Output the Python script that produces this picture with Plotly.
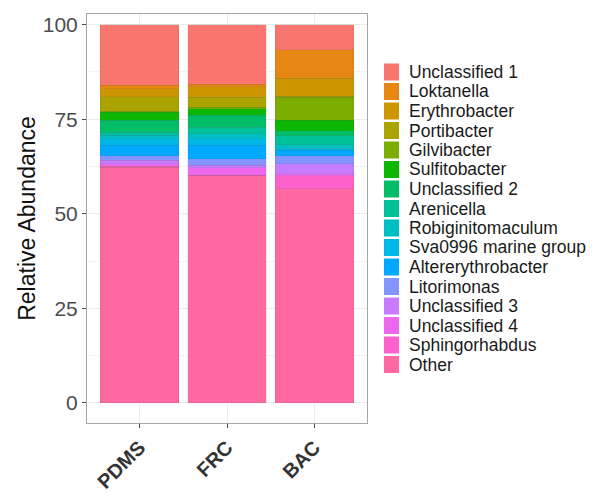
import plotly.graph_objects as go

# Samples (x categories)
samples = ["PDMS", "FRC", "BAC"]

# Taxa, listed from the top of each stacked bar to the bottom
taxa = [
    "Unclassified 1", "Loktanella", "Erythrobacter", "Portibacter",
    "Gilvibacter", "Sulfitobacter", "Unclassified 2", "Arenicella",
    "Robiginitomaculum", "Sva0996 marine group", "Altererythrobacter",
    "Litorimonas", "Unclassified 3", "Unclassified 4", "Sphingorhabdus", "Other",
]

# Relative abundance (%) of each taxon in PDMS, FRC, BAC
unclassified_1 = [15.9, 15.6, 6.7]
loktanella = [0.9, 0.7, 7.5]
erythrobacter = [2.2, 2.8, 4.7]
portibacter = [3.8, 2.7, 0.3]
gilvibacter = [0.3, 0.3, 6.1]
sulfitobacter = [2.1, 1.8, 2.7]
unclassified_2 = [3.1, 3.1, 1.4]
arenicella = [0.9, 1.7, 2.4]
robiginitomaculum = [0.9, 1.4, 1.0]
sva0996 = [1.7, 1.7, 0.4]
altererythrobacter = [2.7, 3.5, 1.4]
litorimonas = [1.3, 1.8, 2.2]
unclassified_3 = [0.9, 0.6, 2.6]
unclassified_4 = [0.7, 2.0, 0.5]
sphingorhabdus = [0.2, 0.2, 3.5]
other = [62.3, 60.0, 56.6]

values = [
    unclassified_1, loktanella, erythrobacter, portibacter, gilvibacter,
    sulfitobacter, unclassified_2, arenicella, robiginitomaculum, sva0996,
    altererythrobacter, litorimonas, unclassified_3, unclassified_4,
    sphingorhabdus, other,
]

# ggplot2 default hue palette for 16 levels
colors = [
    "#F8766D", "#E68613", "#CD9600", "#ABA300", "#7CAE00", "#0CB702",
    "#00BE67", "#00C19A", "#00BFC4", "#00B8E7", "#00A9FF", "#8494FF",
    "#C77CFF", "#ED68ED", "#FF61CC", "#FF68A1",
]

W, H = 611, 496
ML, MR, MT, MB = 87, 244, 14, 73
PW, PH = W - ML - MR, H - MT - MB
FONT = "Liberation Sans, Arial, sans-serif"


def px_x(px):
    return (px - ML) / PW


def px_y(py):
    return (H - MB - py) / PH


fig = go.Figure()

# Stack from the bottom ("Other") upward
for name, vals, col in reversed(list(zip(taxa, values, colors))):
    fig.add_trace(go.Bar(
        x=samples, y=vals, name=name,
        marker=dict(color=col, line=dict(color="rgba(90,90,90,0.25)", width=0.5)),
        showlegend=False,
    ))

# Legend drawn as swatches + labels to the right of the panel
shapes = []
annotations = []
y0_px, step_px = 72, 19.5
for i, (name, col) in enumerate(zip(taxa, colors)):
    cy = y0_px + i * step_px
    shapes.append(dict(
        type="rect", xref="paper", yref="paper",
        x0=px_x(384), x1=px_x(399), y0=px_y(cy + 8.5), y1=px_y(cy - 8.5),
        fillcolor=col, line=dict(width=0),
    ))
    annotations.append(dict(
        xref="paper", yref="paper", x=px_x(407), y=px_y(cy),
        text=name, showarrow=False, xanchor="left", yanchor="middle",
        font=dict(family=FONT, size=17.5, color="#1a1a1a"),
    ))

fig.update_layout(
    width=W, height=H,
    margin=dict(l=ML, r=MR, t=MT, b=MB),
    barmode="stack", bargap=0.1,
    paper_bgcolor="white", plot_bgcolor="white",
    font=dict(family=FONT),
    shapes=shapes, annotations=annotations,
    xaxis=dict(
        range=[-0.6, 2.6], automargin=False,
        showgrid=True, gridcolor="#ebebeb", gridwidth=1,
        showline=True, linecolor="#a6a6a6", linewidth=1, mirror=True,
        ticks="outside", ticklen=4, tickcolor="#4d4d4d",
        tickangle=-45,
        tickfont=dict(size=20, color="#333333", family=FONT, weight="bold"),
    ),
    yaxis=dict(
        range=[-5.3, 102.8], tickvals=[0, 25, 50, 75, 100], automargin=False,
        showgrid=True, gridcolor="#ebebeb", gridwidth=1,
        minor=dict(dtick=12.5, tick0=0, showgrid=True, gridcolor="#f3f3f3", gridwidth=0.6),
        showline=True, linecolor="#a6a6a6", linewidth=1, mirror=True,
        ticks="outside", ticklen=4, tickcolor="#4d4d4d",
        tickfont=dict(size=21, color="#4d4d4d"),
        zeroline=False,
        title=dict(text="Relative Abundance", font=dict(size=23, color="#111111"), standoff=0),
    ),
)

fig.write_html("out.html")
